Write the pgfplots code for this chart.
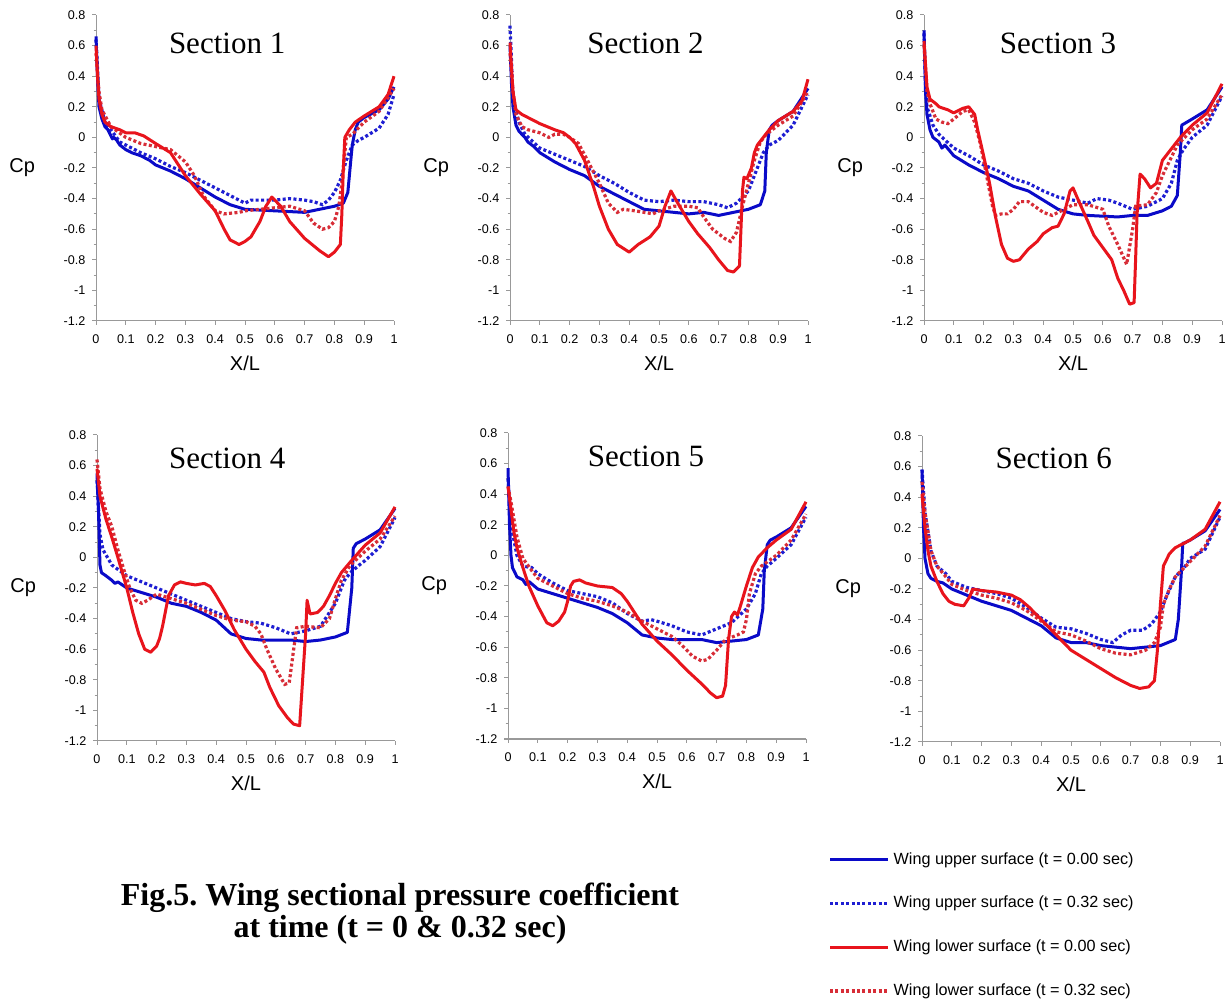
\documentclass[border=0pt]{standalone}
\usepackage{fontspec}
\setmainfont{Liberation Sans}
\newfontfamily\tnr{Liberation Serif}
\usepackage{pgfplots}
\pgfplotsset{compat=1.18}
\frenchspacing
\definecolor{ublue}{RGB}{10,10,200}
\definecolor{ubluedot}{RGB}{30,30,210}
\definecolor{lred}{RGB}{232,20,28}
\definecolor{lreddot}{RGB}{215,45,55}
\tikzset{sectitle/.style={font=\tnr\fontsize{15.5}{17}\selectfont, anchor=center}}
\pgfplotsset{
  cpaxis/.style={
    scale only axis, width=149pt, height=153pt,
    xmin=0, xmax=1, ymin=-1.2, ymax=0.8,
    axis lines*=left,
    axis line style={draw=black!40, line width=0.5pt},
    tick style={draw=black!40, line width=0.5pt},
    tick align=outside, major tick length=1.8pt, minor tick length=1.2pt,
    xtick={0,0.1,0.2,0.3,0.4,0.5,0.6,0.7,0.8,0.9,1},
    xticklabels={0,0.1,0.2,0.3,0.4,0.5,0.6,0.7,0.8,0.9,1},
    ytick={-1.2,-1,-0.8,-0.6,-0.4,-0.2,0,0.2,0.4,0.6,0.8},
    yticklabels={-1.2,-1,-0.8,-0.6,-0.4,-0.2,0,0.2,0.4,0.6,0.8},
    minor ytick={-1.1,-0.9,-0.7,-0.5,-0.3,-0.1,0.1,0.3,0.5,0.7},
    ticklabel style={font=\fontsize{6.3}{7.5}\selectfont},
    xticklabel style={yshift=-1.5pt},
    xlabel={X/L}, ylabel={Cp},
    label style={font=\fontsize{9.5}{11}\selectfont},
    every axis x label/.style={at={(axis description cs:0.5,-0.137)}, anchor=center},
    every axis y label/.style={at={(axis description cs:-0.248,0.5)}, anchor=center},
    clip=false,
  },
  us0/.style={ublue, line width=1.5pt, line join=round},
  us32/.style={ubluedot, line width=1.6pt, dash pattern=on 1.5pt off 1.2pt},
  ls0/.style={lred, line width=1.5pt, line join=round},
  ls32/.style={lreddot, line width=1.6pt, dash pattern=on 1.5pt off 1.2pt},
}
\begin{document}
\begin{tikzpicture}
\useasboundingbox (0,0) rectangle (614.5pt,500pt);
\fill[white] (0,0) rectangle (614.5pt,500pt);

% ---------------- Section 1
\begin{axis}[cpaxis, at={(48pt,339.5pt)}, anchor=south west]
\addplot[us32] coordinates {(0,0.64)(0.005,0.45)(0.01,0.25)(0.03,0.1)(0.05,0.05)(0.08,-0.03)(0.1,-0.05)(0.15,-0.1)(0.2,-0.14)(0.25,-0.19)(0.3,-0.23)(0.35,-0.28)(0.4,-0.33)(0.45,-0.38)(0.5,-0.43)(0.52,-0.41)(0.55,-0.41)(0.6,-0.41)(0.65,-0.4)(0.7,-0.41)(0.73,-0.42)(0.76,-0.44)(0.78,-0.41)(0.8,-0.36)(0.82,-0.28)(0.84,-0.15)(0.86,-0.05)(0.88,-0.02)(0.9,0.0)(0.95,0.06)(0.98,0.15)(1,0.28)};
\addplot[us0] coordinates {(0,0.66)(0.005,0.4)(0.01,0.2)(0.02,0.12)(0.03,0.07)(0.04,0.05)(0.05,0.01)(0.055,-0.01)(0.06,0.0)(0.07,-0.02)(0.08,-0.05)(0.1,-0.08)(0.12,-0.1)(0.15,-0.12)(0.18,-0.15)(0.2,-0.18)(0.25,-0.22)(0.3,-0.27)(0.35,-0.33)(0.4,-0.39)(0.45,-0.44)(0.5,-0.47)(0.55,-0.475)(0.6,-0.48)(0.65,-0.485)(0.7,-0.49)(0.75,-0.47)(0.8,-0.45)(0.83,-0.43)(0.845,-0.36)(0.855,-0.15)(0.86,-0.05)(0.87,0.05)(0.88,0.1)(0.9,0.13)(0.95,0.18)(0.98,0.25)(1,0.33)};
\addplot[ls32] coordinates {(0,0.55)(0.01,0.3)(0.02,0.18)(0.05,0.07)(0.1,0.0)(0.15,-0.04)(0.2,-0.06)(0.25,-0.08)(0.3,-0.16)(0.33,-0.25)(0.36,-0.38)(0.4,-0.48)(0.43,-0.5)(0.48,-0.49)(0.5,-0.48)(0.55,-0.47)(0.6,-0.46)(0.65,-0.45)(0.7,-0.48)(0.73,-0.56)(0.76,-0.6)(0.78,-0.59)(0.8,-0.55)(0.815,-0.45)(0.825,-0.3)(0.835,-0.1)(0.84,0.0)(0.86,0.02)(0.9,0.1)(0.95,0.17)(1,0.32)};
\addplot[ls0] coordinates {(0,0.6)(0.005,0.4)(0.01,0.25)(0.02,0.15)(0.03,0.1)(0.05,0.07)(0.08,0.05)(0.1,0.03)(0.13,0.03)(0.16,0.01)(0.2,-0.04)(0.25,-0.1)(0.3,-0.25)(0.35,-0.37)(0.4,-0.48)(0.43,-0.6)(0.45,-0.67)(0.48,-0.7)(0.5,-0.68)(0.52,-0.65)(0.55,-0.55)(0.57,-0.45)(0.59,-0.39)(0.62,-0.45)(0.65,-0.55)(0.7,-0.66)(0.75,-0.74)(0.78,-0.78)(0.8,-0.75)(0.82,-0.7)(0.825,-0.5)(0.83,-0.2)(0.835,0.0)(0.85,0.05)(0.87,0.1)(0.9,0.14)(0.95,0.2)(0.98,0.28)(1,0.4)};
\node[sectitle] at (axis description cs:0.44,0.908) {Section 1};
\end{axis}

% ---------------- Section 2
\begin{axis}[cpaxis, at={(255pt,339.5pt)}, anchor=south west]
\addplot[us32] coordinates {(0,0.73)(0.005,0.5)(0.01,0.25)(0.03,0.1)(0.05,0.02)(0.1,-0.07)(0.15,-0.11)(0.2,-0.15)(0.25,-0.19)(0.3,-0.25)(0.35,-0.3)(0.4,-0.36)(0.45,-0.41)(0.5,-0.42)(0.55,-0.41)(0.6,-0.42)(0.65,-0.42)(0.7,-0.44)(0.73,-0.46)(0.76,-0.43)(0.8,-0.35)(0.83,-0.2)(0.85,-0.1)(0.87,-0.05)(0.9,-0.02)(0.95,0.08)(1,0.28)};
\addplot[us0] coordinates {(0,0.6)(0.005,0.35)(0.01,0.2)(0.02,0.08)(0.03,0.04)(0.05,0.0)(0.06,-0.03)(0.08,-0.06)(0.1,-0.1)(0.15,-0.16)(0.2,-0.21)(0.25,-0.25)(0.3,-0.32)(0.35,-0.37)(0.4,-0.42)(0.45,-0.47)(0.5,-0.48)(0.55,-0.49)(0.6,-0.5)(0.65,-0.49)(0.7,-0.51)(0.75,-0.49)(0.8,-0.47)(0.84,-0.44)(0.855,-0.35)(0.86,-0.1)(0.87,0.05)(0.88,0.08)(0.9,0.11)(0.95,0.17)(1,0.32)};
\addplot[ls32] coordinates {(0,0.55)(0.01,0.3)(0.02,0.15)(0.04,0.07)(0.06,0.05)(0.1,0.03)(0.13,0.0)(0.15,0.02)(0.18,0.02)(0.2,0.0)(0.23,-0.04)(0.26,-0.15)(0.3,-0.3)(0.33,-0.43)(0.36,-0.49)(0.38,-0.47)(0.42,-0.48)(0.45,-0.49)(0.48,-0.5)(0.5,-0.48)(0.55,-0.45)(0.6,-0.45)(0.63,-0.46)(0.65,-0.52)(0.68,-0.6)(0.72,-0.66)(0.74,-0.68)(0.76,-0.62)(0.78,-0.45)(0.8,-0.3)(0.82,-0.15)(0.84,-0.03)(0.86,0.02)(0.9,0.08)(0.95,0.14)(1,0.3)};
\addplot[ls0] coordinates {(0,0.62)(0.01,0.3)(0.02,0.18)(0.04,0.15)(0.06,0.13)(0.1,0.09)(0.15,0.05)(0.18,0.03)(0.2,0.0)(0.22,-0.04)(0.25,-0.15)(0.28,-0.32)(0.3,-0.45)(0.33,-0.6)(0.36,-0.7)(0.4,-0.75)(0.43,-0.7)(0.47,-0.65)(0.5,-0.58)(0.52,-0.45)(0.54,-0.35)(0.56,-0.42)(0.6,-0.55)(0.63,-0.63)(0.67,-0.72)(0.7,-0.8)(0.73,-0.87)(0.75,-0.88)(0.77,-0.84)(0.775,-0.6)(0.78,-0.35)(0.785,-0.26)(0.795,-0.27)(0.81,-0.2)(0.82,-0.1)(0.83,-0.05)(0.85,0.0)(0.87,0.05)(0.9,0.11)(0.95,0.17)(0.98,0.24)(1,0.38)};
\node[sectitle] at (axis description cs:0.455,0.908) {Section 2};
\end{axis}

% ---------------- Section 3
\begin{axis}[cpaxis, at={(462pt,339.5pt)}, anchor=south west]
\addplot[us32] coordinates {(0,0.68)(0.005,0.35)(0.01,0.2)(0.03,0.08)(0.05,0.02)(0.1,-0.07)(0.15,-0.12)(0.2,-0.18)(0.25,-0.22)(0.3,-0.27)(0.35,-0.3)(0.4,-0.35)(0.45,-0.39)(0.5,-0.41)(0.55,-0.43)(0.58,-0.4)(0.62,-0.41)(0.65,-0.43)(0.7,-0.47)(0.75,-0.45)(0.8,-0.4)(0.83,-0.3)(0.85,-0.15)(0.87,-0.08)(0.9,0.0)(0.95,0.08)(1,0.27)};
\addplot[us0] coordinates {(0,0.7)(0.005,0.3)(0.01,0.15)(0.02,0.05)(0.03,0.0)(0.05,-0.03)(0.06,-0.07)(0.07,-0.05)(0.1,-0.12)(0.15,-0.18)(0.2,-0.23)(0.25,-0.27)(0.3,-0.32)(0.35,-0.35)(0.4,-0.41)(0.45,-0.47)(0.5,-0.5)(0.55,-0.51)(0.6,-0.515)(0.65,-0.52)(0.7,-0.51)(0.75,-0.51)(0.8,-0.48)(0.83,-0.45)(0.85,-0.38)(0.86,-0.1)(0.865,0.08)(0.9,0.12)(0.95,0.18)(1,0.33)};
\addplot[ls32] coordinates {(0,0.6)(0.01,0.3)(0.02,0.22)(0.04,0.12)(0.06,0.1)(0.08,0.09)(0.1,0.12)(0.13,0.17)(0.15,0.18)(0.17,0.1)(0.19,-0.05)(0.21,-0.25)(0.23,-0.45)(0.24,-0.51)(0.26,-0.5)(0.28,-0.5)(0.3,-0.47)(0.32,-0.42)(0.35,-0.42)(0.4,-0.49)(0.43,-0.51)(0.45,-0.49)(0.5,-0.44)(0.55,-0.44)(0.6,-0.47)(0.62,-0.58)(0.65,-0.7)(0.68,-0.83)(0.7,-0.6)(0.71,-0.45)(0.75,-0.44)(0.78,-0.36)(0.8,-0.25)(0.83,-0.13)(0.85,-0.05)(0.9,0.05)(0.95,0.12)(1,0.28)};
\addplot[ls0] coordinates {(0,0.63)(0.01,0.33)(0.02,0.25)(0.04,0.22)(0.05,0.2)(0.08,0.18)(0.1,0.16)(0.13,0.19)(0.15,0.2)(0.17,0.15)(0.18,0.05)(0.2,-0.12)(0.22,-0.3)(0.24,-0.52)(0.26,-0.7)(0.28,-0.79)(0.3,-0.81)(0.32,-0.8)(0.35,-0.73)(0.38,-0.68)(0.4,-0.63)(0.43,-0.59)(0.45,-0.58)(0.47,-0.5)(0.49,-0.35)(0.5,-0.33)(0.52,-0.42)(0.55,-0.55)(0.57,-0.64)(0.6,-0.72)(0.63,-0.8)(0.65,-0.92)(0.67,-1.0)(0.69,-1.09)(0.705,-1.08)(0.71,-0.8)(0.715,-0.5)(0.725,-0.24)(0.74,-0.27)(0.76,-0.33)(0.78,-0.3)(0.8,-0.15)(0.82,-0.1)(0.84,-0.05)(0.86,0.0)(0.9,0.08)(0.95,0.16)(1,0.35)};
\node[sectitle] at (axis description cs:0.45,0.908) {Section 3};
\end{axis}

% ---------------- Section 4
\begin{axis}[cpaxis, at={(48.5pt,129.5pt)}, anchor=south west]
\addplot[us32] coordinates {(0,0.5)(0.01,0.15)(0.02,0.05)(0.05,-0.05)(0.1,-0.12)(0.15,-0.16)(0.2,-0.2)(0.25,-0.24)(0.3,-0.28)(0.35,-0.32)(0.4,-0.36)(0.45,-0.4)(0.5,-0.42)(0.55,-0.43)(0.6,-0.46)(0.65,-0.5)(0.7,-0.48)(0.75,-0.45)(0.8,-0.3)(0.83,-0.15)(0.85,-0.1)(0.88,-0.05)(0.9,-0.02)(0.95,0.07)(1,0.26)};
\addplot[us0] coordinates {(0,0.55)(0.005,0.3)(0.01,-0.05)(0.015,-0.1)(0.03,-0.12)(0.05,-0.15)(0.06,-0.17)(0.07,-0.16)(0.1,-0.2)(0.15,-0.23)(0.2,-0.26)(0.25,-0.3)(0.3,-0.32)(0.35,-0.36)(0.4,-0.41)(0.45,-0.5)(0.5,-0.53)(0.55,-0.54)(0.6,-0.54)(0.65,-0.54)(0.7,-0.55)(0.75,-0.54)(0.8,-0.52)(0.84,-0.49)(0.855,-0.2)(0.86,0.06)(0.87,0.09)(0.9,0.12)(0.95,0.18)(1,0.32)};
\addplot[ls32] coordinates {(0,0.64)(0.01,0.45)(0.03,0.3)(0.05,0.2)(0.07,0.05)(0.09,-0.08)(0.11,-0.2)(0.13,-0.28)(0.15,-0.3)(0.17,-0.28)(0.2,-0.24)(0.25,-0.27)(0.3,-0.3)(0.35,-0.34)(0.4,-0.38)(0.45,-0.41)(0.5,-0.42)(0.53,-0.45)(0.55,-0.5)(0.57,-0.6)(0.6,-0.73)(0.63,-0.83)(0.645,-0.82)(0.66,-0.6)(0.67,-0.46)(0.7,-0.45)(0.75,-0.46)(0.78,-0.4)(0.8,-0.27)(0.82,-0.15)(0.85,-0.05)(0.9,0.04)(0.95,0.12)(1,0.27)};
\addplot[ls0] coordinates {(0,0.58)(0.01,0.4)(0.03,0.25)(0.05,0.13)(0.07,0.0)(0.1,-0.2)(0.12,-0.36)(0.14,-0.5)(0.16,-0.6)(0.18,-0.62)(0.2,-0.58)(0.21,-0.53)(0.22,-0.45)(0.24,-0.25)(0.26,-0.18)(0.28,-0.16)(0.3,-0.17)(0.33,-0.18)(0.36,-0.17)(0.38,-0.19)(0.4,-0.25)(0.43,-0.35)(0.46,-0.47)(0.5,-0.6)(0.53,-0.68)(0.56,-0.75)(0.58,-0.85)(0.61,-0.97)(0.64,-1.05)(0.66,-1.09)(0.68,-1.1)(0.69,-0.8)(0.7,-0.5)(0.705,-0.28)(0.715,-0.37)(0.74,-0.36)(0.76,-0.32)(0.78,-0.25)(0.8,-0.17)(0.82,-0.1)(0.85,-0.03)(0.9,0.08)(0.95,0.16)(1,0.33)};
\node[sectitle] at (axis description cs:0.437,0.925) {Section 4};
\end{axis}

% ---------------- Section 5
\begin{axis}[cpaxis, at={(254pt,130.5pt)}, anchor=south west]
\addplot[us32] coordinates {(0,0.5)(0.01,0.2)(0.03,0.0)(0.05,-0.07)(0.08,-0.08)(0.1,-0.12)(0.15,-0.18)(0.2,-0.23)(0.25,-0.25)(0.3,-0.27)(0.35,-0.31)(0.4,-0.38)(0.45,-0.43)(0.48,-0.42)(0.5,-0.43)(0.55,-0.46)(0.6,-0.5)(0.65,-0.52)(0.7,-0.48)(0.75,-0.44)(0.8,-0.35)(0.83,-0.25)(0.85,-0.12)(0.87,-0.07)(0.9,-0.02)(0.95,0.07)(1,0.25)};
\addplot[us0] coordinates {(0,0.57)(0.005,0.2)(0.01,0.0)(0.015,-0.08)(0.03,-0.14)(0.05,-0.16)(0.06,-0.19)(0.07,-0.17)(0.1,-0.22)(0.15,-0.25)(0.2,-0.28)(0.25,-0.31)(0.3,-0.34)(0.35,-0.38)(0.4,-0.44)(0.45,-0.52)(0.5,-0.54)(0.55,-0.55)(0.6,-0.55)(0.65,-0.55)(0.7,-0.57)(0.75,-0.56)(0.8,-0.55)(0.84,-0.52)(0.855,-0.35)(0.86,-0.1)(0.87,0.07)(0.88,0.1)(0.9,0.12)(0.95,0.18)(1,0.32)};
\addplot[ls32] coordinates {(0,0.45)(0.01,0.35)(0.03,0.12)(0.05,-0.02)(0.08,-0.1)(0.1,-0.15)(0.15,-0.2)(0.2,-0.25)(0.25,-0.28)(0.3,-0.3)(0.35,-0.33)(0.4,-0.37)(0.45,-0.43)(0.5,-0.48)(0.55,-0.53)(0.58,-0.58)(0.62,-0.66)(0.65,-0.69)(0.67,-0.68)(0.7,-0.62)(0.73,-0.55)(0.77,-0.52)(0.79,-0.5)(0.8,-0.42)(0.81,-0.25)(0.83,-0.12)(0.85,-0.07)(0.9,0.0)(0.95,0.1)(1,0.27)};
\addplot[ls0] coordinates {(0,0.45)(0.01,0.3)(0.02,0.15)(0.03,0.05)(0.05,-0.08)(0.07,-0.2)(0.1,-0.33)(0.13,-0.44)(0.15,-0.46)(0.17,-0.43)(0.19,-0.37)(0.2,-0.3)(0.21,-0.2)(0.22,-0.17)(0.24,-0.16)(0.26,-0.18)(0.3,-0.2)(0.35,-0.21)(0.38,-0.25)(0.4,-0.3)(0.45,-0.45)(0.5,-0.56)(0.55,-0.65)(0.6,-0.75)(0.65,-0.84)(0.68,-0.9)(0.7,-0.93)(0.72,-0.92)(0.73,-0.85)(0.74,-0.55)(0.75,-0.4)(0.76,-0.37)(0.77,-0.39)(0.78,-0.33)(0.8,-0.2)(0.82,-0.08)(0.84,-0.01)(0.87,0.05)(0.9,0.1)(0.95,0.17)(1,0.35)};
\node[sectitle] at (axis description cs:0.463,0.925) {Section 5};
\end{axis}

% ---------------- Section 6
\begin{axis}[cpaxis, at={(461pt,129pt)}, anchor=south west]
\addplot[us32] coordinates {(0,0.58)(0.01,0.3)(0.03,0.05)(0.05,-0.05)(0.08,-0.1)(0.1,-0.15)(0.15,-0.19)(0.2,-0.21)(0.25,-0.23)(0.3,-0.26)(0.35,-0.32)(0.4,-0.39)(0.45,-0.45)(0.5,-0.46)(0.55,-0.49)(0.6,-0.53)(0.64,-0.55)(0.67,-0.5)(0.7,-0.47)(0.74,-0.47)(0.77,-0.43)(0.8,-0.35)(0.82,-0.25)(0.85,-0.12)(0.88,-0.06)(0.9,0.0)(0.95,0.06)(1,0.27)};
\addplot[us0] coordinates {(0,0.58)(0.005,0.2)(0.01,0.0)(0.02,-0.1)(0.03,-0.13)(0.05,-0.15)(0.07,-0.16)(0.1,-0.2)(0.15,-0.24)(0.2,-0.28)(0.25,-0.31)(0.3,-0.34)(0.35,-0.39)(0.4,-0.44)(0.45,-0.52)(0.5,-0.55)(0.55,-0.55)(0.6,-0.57)(0.65,-0.58)(0.7,-0.59)(0.75,-0.58)(0.8,-0.57)(0.85,-0.53)(0.86,-0.4)(0.87,-0.1)(0.875,0.1)(0.88,0.1)(0.9,0.12)(0.95,0.18)(1,0.32)};
\addplot[ls32] coordinates {(0,0.5)(0.01,0.3)(0.03,0.05)(0.05,-0.05)(0.08,-0.12)(0.1,-0.17)(0.15,-0.21)(0.2,-0.24)(0.25,-0.26)(0.3,-0.29)(0.35,-0.34)(0.4,-0.41)(0.45,-0.48)(0.5,-0.5)(0.55,-0.54)(0.6,-0.59)(0.65,-0.62)(0.7,-0.63)(0.75,-0.6)(0.78,-0.55)(0.8,-0.45)(0.81,-0.3)(0.83,-0.2)(0.85,-0.12)(0.9,-0.02)(0.95,0.08)(1,0.28)};
\addplot[ls0] coordinates {(0,0.42)(0.01,0.2)(0.02,0.05)(0.03,-0.05)(0.05,-0.15)(0.07,-0.23)(0.09,-0.28)(0.11,-0.3)(0.14,-0.31)(0.16,-0.25)(0.17,-0.2)(0.2,-0.21)(0.25,-0.22)(0.3,-0.24)(0.33,-0.27)(0.36,-0.32)(0.4,-0.4)(0.45,-0.5)(0.5,-0.6)(0.55,-0.66)(0.6,-0.72)(0.65,-0.78)(0.7,-0.83)(0.73,-0.85)(0.76,-0.84)(0.78,-0.8)(0.79,-0.6)(0.8,-0.3)(0.81,-0.05)(0.83,0.03)(0.85,0.07)(0.88,0.1)(0.9,0.12)(0.95,0.19)(1,0.37)};
\node[sectitle] at (axis description cs:0.442,0.928) {Section 6};
\end{axis}

% ---------------- Legend
\begin{axis}[hide axis, scale only axis, width=10pt, height=10pt,
  xmin=0, xmax=1, ymin=0, ymax=1,
  at={(414pt,75pt)}, anchor=north west,
  legend cell align=left,
  legend image code/.code={\draw[#1] (0pt,0pt) -- (29pt,0pt);},
  legend style={at={(0,1)}, anchor=north west, draw=none, fill=none,
    inner sep=0pt, row sep=12.5pt,
    font=\fontsize{8.1}{9}\selectfont,
    nodes={inner sep=1pt},
    /tikz/every odd column/.append style={column sep=1pt}},
]
\addlegendimage{us0}
\addlegendentry{Wing upper surface (t = 0.00 sec)}
\addlegendimage{us32}
\addlegendentry{Wing upper surface (t = 0.32 sec)}
\addlegendimage{ls0}
\addlegendentry{Wing lower surface (t = 0.00 sec)}
\addlegendimage{ls32}
\addlegendentry{Wing lower surface (t = 0.32 sec)}
\end{axis}

% ---------------- Caption
\node[anchor=base, font=\tnr\bfseries\fontsize{16}{17.5}\selectfont] at (200pt,47.5pt) {Fig.5. Wing sectional pressure coefficient};
\node[anchor=base, font=\tnr\bfseries\fontsize{16}{17.5}\selectfont] at (200pt,31.5pt) {at time (t = 0 \& 0.32 sec)};
\end{tikzpicture}
\end{document}
